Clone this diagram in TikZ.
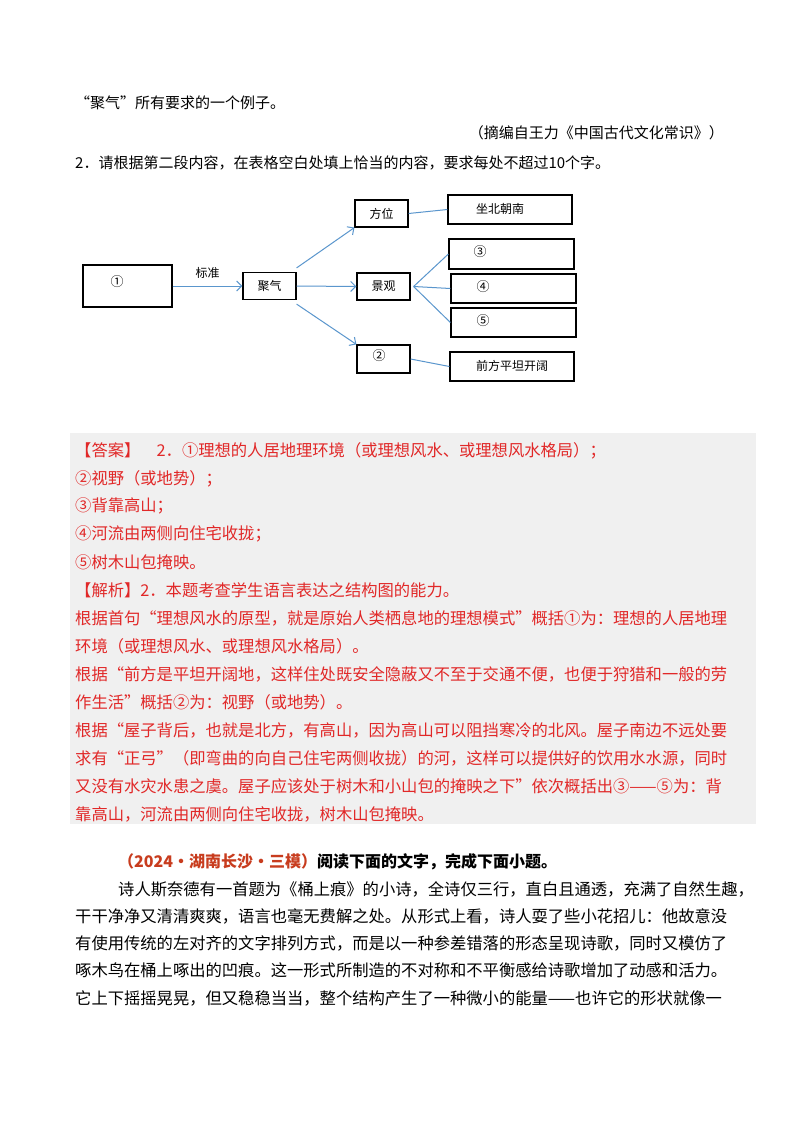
\documentclass[tikz,border=0pt]{standalone}
\usepackage{fontspec}
\usetikzlibrary{arrows.meta}
\setmainfont{Noto Sans CJK SC}
\begin{document}
\begin{tikzpicture}[x=1pt,y=-1pt,
  bx/.style={draw=black,line width=1.2pt,minimum height=28pt,font=\fontsize{12}{14}\selectfont},
  conn/.style={draw={rgb,255:red,90;green,150;blue,205},line width=1pt},
  arr/.style={conn,-{Straight Barb[length=5pt]}},
  txt/.style={anchor=west,inner sep=0pt,font=\fontsize{15}{17}\selectfont},
  red/.style={txt,text={rgb,255:red,225;green,40;blue,40},font=\fontsize{16.3}{18}\selectfont},
  num/.style={font=\fontsize{13}{14}\selectfont}]
\useasboundingbox (0,0) rectangle (800,1132);
\fill[white] (0,0) rectangle (800,1132);
\node[txt] (t1) at (75,103) {“聚气”所有要求的一个例子。};
\node[txt,anchor=east] (t2) at (724,133) {（摘编自王力《中国古代文化常识》）};
\node[txt] (t3) at (75,163) {2．请根据第二段内容，在表格空白处填上恰当的内容，要求每处不超过10个字。};
% diagram
\node[bx,minimum width=89pt,minimum height=42pt] (b1) at (127.5,286) {};
\node[num] (c1) at (117,282) {①};
\node[bx,minimum width=53pt,minimum height=27pt] (jq) at (269.5,286) {聚气};
\node[bx,minimum width=53pt,minimum height=27pt] (fw) at (381.5,213.5) {方位};
\node[bx,minimum width=53pt,minimum height=27pt] (jg) at (383.5,286.5) {景观};
\node[bx,minimum width=53pt,minimum height=28pt] (b2) at (383.5,359) {};
\node[num] (c2) at (379,356) {②};
\node[bx,minimum width=124pt,minimum height=29pt] (zb) at (510,209.5) {};
\node[font=\fontsize{12}{14}\selectfont] (zbt) at (500,209) {坐北朝南};
\node[bx,minimum width=125pt,minimum height=30pt] (b3) at (511.5,254) {};
\node[num] (c3) at (480,252) {③};
\node[bx,minimum width=125pt,minimum height=29pt] (b4) at (513.5,288.5) {};
\node[num] (c4) at (483,287) {④};
\node[bx,minimum width=125pt,minimum height=29pt] (b5) at (513.5,322.5) {};
\node[num] (c5) at (483,321) {⑤};
\node[bx,minimum width=124pt,minimum height=29pt] (qf) at (512,366.5) {};
\node[font=\fontsize{12}{14}\selectfont] (qft) at (512,366) {前方平坦开阔};
\draw[arr] (b1.east) -- node[above=4pt,font=\fontsize{12}{13}\selectfont] {标准} (jq.west);
\draw[arr] ([yshift=4pt]jq.north east) -- (fw.south west);
\draw[arr] (jq.east) -- (jg.west);
\draw[arr] ([yshift=-4pt]jq.south east) -- (b2.north west);
\draw[conn] (fw.east) -- (zb.west);
\draw[conn] ([xshift=3pt]jg.east) -- (b3.west);
\draw[conn] ([xshift=3pt]jg.east) -- (b4.west);
\draw[conn] ([xshift=3pt]jg.east) -- (b5.west);
\draw[conn] (b2.east) -- (qf.west);
% answer box
\fill[gray!12] (70,433) rectangle (756,824);
\node[red] (a1) at (75,451) {【答案】\quad 2．①理想的人居地理环境（或理想风水、或理想风水格局）；};
\node[red] (a2) at (75,479) {②视野（或地势）；};
\node[red] (a3) at (75,506) {③背靠高山；};
\node[red] (a4) at (75,534) {④河流由两侧向住宅收拢；};
\node[red] (a5) at (75,562) {⑤树木山包掩映。};
\node[red] (a6) at (75,590) {【解析】2．本题考查学生语言表达之结构图的能力。};
\node[red] (a7) at (75,618) {根据首句“理想风水的原型，就是原始人类栖息地的理想模式”概括①为：理想的人居地理};
\node[red] (a8) at (75,646) {环境（或理想风水、或理想风水格局）。};
\node[red] (a9) at (75,674) {根据“前方是平坦开阔地，这样住处既安全隐蔽又不至于交通不便，也便于狩猎和一般的劳};
\node[red] (a10) at (75,702) {作生活”概括②为：视野（或地势）。};
\node[red] (a11) at (75,730) {根据“屋子背后，也就是北方，有高山，因为高山可以阻挡寒冷的北风。屋子南边不远处要};
\node[red] (a12) at (75,758) {求有“正弓”（即弯曲的向自己住宅两侧收拢）的河，这样可以提供好的饮用水水源，同时};
\node[red] (a13) at (75,786) {又没有水灾水患之虞。屋子应该处于树木和小山包的掩映之下”依次概括出③——⑤为：背};
\node[red] (a14) at (75,814) {靠高山，河流由两侧向住宅收拢，树木山包掩映。};
% bottom
\node[txt,font=\fontsize{16}{18}\selectfont\bfseries] (h) at (118,862) {\textcolor[RGB]{200,60,30}{（2024·湖南长沙·三模）}阅读下面的文字，完成下面小题。};
\node[txt,font=\fontsize{16.3}{18}\selectfont] (p1) at (118,889) {诗人斯奈德有一首题为《桶上痕》的小诗，全诗仅三行，直白且通透，充满了自然生趣，};
\node[txt,font=\fontsize{16.3}{18}\selectfont] (p2) at (75,916) {干干净净又清清爽爽，语言也毫无费解之处。从形式上看，诗人耍了些小花招儿：他故意没};
\node[txt,font=\fontsize{16.3}{18}\selectfont] (p3) at (75,943) {有使用传统的左对齐的文字排列方式，而是以一种参差错落的形态呈现诗歌，同时又模仿了};
\node[txt,font=\fontsize{16.3}{18}\selectfont] (p4) at (75,970) {啄木鸟在桶上啄出的凹痕。这一形式所制造的不对称和不平衡感给诗歌增加了动感和活力。};
\node[txt,font=\fontsize{16.3}{18}\selectfont] (p5) at (75,998) {它上下摇摇晃晃，但又稳稳当当，整个结构产生了一种微小的能量——也许它的形状就像一};
\end{tikzpicture}
\end{document}
